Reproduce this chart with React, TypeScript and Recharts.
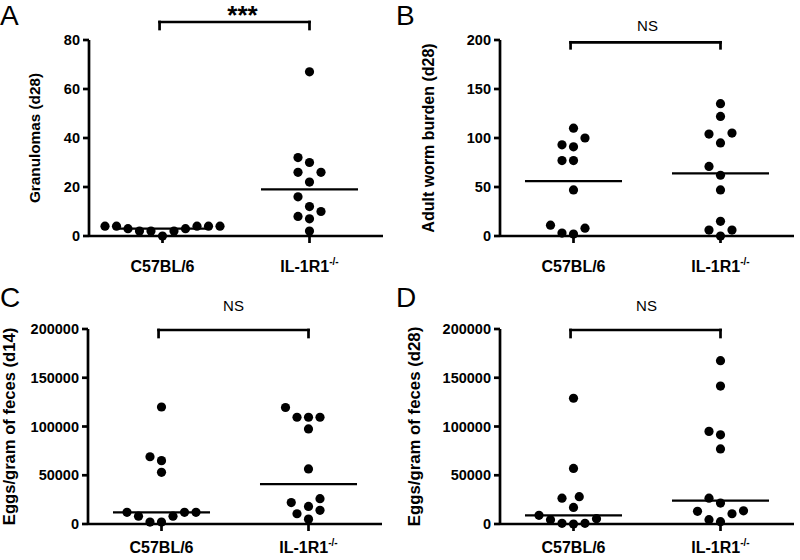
import React from "react";
import { ScatterChart, Scatter, XAxis, YAxis, ReferenceLine } from "recharts";

const FONT = "'Liberation Sans', Arial, Helvetica, sans-serif";

// group names on the x axis (second one gets a -/- superscript)
const groups = ["C57BL/6", "IL-1R1"];

// A: granulomas at d28
const granWt = [4, 4, 4, 3, 2, 0, 2, 2, 3, 4, 4];
const granKo = [67, 32, 30, 26, 26, 22, 16, 12, 10, 8, 7, 2];
const granLines = [3, 19];
const granTicks = [0, 20, 40, 60, 80];

// B: adult worm burden at d28
const wormWt = [110, 100, 91, 93, 77, 77, 47, 8, 2, 3, 11];
const wormKo = [135, 122, 104, 105, 95, 71, 62, 47, 15, 6, 0, 6];
const wormLines = [56, 64];
const wormTicks = [0, 50, 100, 150, 200];

// C: eggs/gram of feces at d14
const egg14Wt = [120000, 69000, 65000, 53000, 12000, 12000, 8000, 2000, 2000, 8000, 12000];
const egg14Ko = [119500, 109500, 109500, 109500, 97500, 56500, 26000, 22000, 18000, 14000, 10500, 5000];
const egg14Lines = [12000, 41000];

// D: eggs/gram of feces at d28
const egg28Wt = [129000, 57000, 26500, 28000, 17000, 5500, 700, 0, 700, 4400, 8900];
const egg28Ko = [167500, 141500, 95000, 91500, 77000, 26500, 21500, 13500, 10500, 13000, 2400, 4400];
const egg28Lines = [8900, 24000];
const eggTicks = [0, 50000, 100000, 150000, 200000];

const CAT_PX = 147; // pixels between the two groups
const DOT_R = 4.6;
const SWARM_STEP = 5.75;
const SWARM_GAP = 11.5;
const AXIS_W = 2.7;

// simple beeswarm: lowest values sit in the middle, others pushed sideways until they don't collide
function swarm(values: number[], cat: number, pxPerUnit: number) {
  const placed: { dx: number; dy: number }[] = [];
  return [...values]
    .sort((a, b) => a - b)
    .map((v) => {
      const dy = v * pxPerUnit;
      let dx = 0;
      for (let k = 0; k < 200; k++) {
        const c = k === 0 ? 0 : (k % 2 ? -1 : 1) * Math.ceil(k / 2) * SWARM_STEP;
        if (placed.every((p) => Math.hypot(p.dx - c, p.dy - dy) >= SWARM_GAP)) {
          dx = c;
          break;
        }
      }
      placed.push({ dx, dy });
      return { x: cat + dx / CAT_PX, y: v };
    });
}

const panels = [
  {
    key: "A", left: 0, top: 0,
    yLabel: "Granulomas (d28)", yLabelX: 40, yLabelSize: 15.3,
    plotLeft: 89, plotTop: 40, plotH: 196, yMax: 80, ticks: granTicks,
    wt: granWt, ko: granKo, lines: granLines,
    sig: "***", sigBold: true, sigSize: 26, sigDy: 2, sigDx: 8,
    bracketTop: -18, bracketDrop: 7, xLabelDy: 29,
  },
  {
    key: "B", left: 400, top: 0,
    yLabel: "Adult worm burden (d28)", yLabelX: 33.5, yLabelSize: 16,
    plotLeft: 100, plotTop: 40, plotH: 196, yMax: 200, ticks: wormTicks,
    wt: wormWt, ko: wormKo, lines: wormLines,
    sig: "NS", sigBold: false, sigSize: 15, sigDy: -11, sigDx: 2,
    bracketTop: 2.3, bracketDrop: 6, xLabelDy: 29,
  },
  {
    key: "C", left: 0, top: 280,
    yLabel: "Eggs/gram of feces (d14)", yLabelX: 15, yLabelSize: 16.6,
    plotLeft: 88, plotTop: 49, plotH: 195, yMax: 200000, ticks: eggTicks,
    wt: egg14Wt, ko: egg14Ko, lines: egg14Lines,
    sig: "NS", sigBold: false, sigSize: 15, sigDy: -19, sigDx: 0,
    bracketTop: 1, bracketDrop: 7, xLabelDy: 22,
  },
  {
    key: "D", left: 400, top: 280,
    yLabel: "Eggs/gram of feces (d28)", yLabelX: 20, yLabelSize: 16.8,
    plotLeft: 100, plotTop: 49, plotH: 195, yMax: 200000, ticks: eggTicks,
    wt: egg28Wt, ko: egg28Ko, lines: egg28Lines,
    sig: "NS", sigBold: false, sigSize: 15, sigDy: -19, sigDx: 1,
    bracketTop: 1, bracketDrop: 7, xLabelDy: 22,
  },
];

const Dot = (p: any) => <circle cx={p.cx} cy={p.cy} r={DOT_R} fill="#000" />;

const XTick = ({ x, y, payload, dy }: any) => (
  <text x={x} y={y + dy} textAnchor="middle" fontSize={16} fontWeight={700} fontFamily={FONT} fill="#000">
    {payload.value === 1 ? (
      groups[0]
    ) : (
      <>
        {groups[1]}
        <tspan dy={-7} fontSize={10}>-/-</tspan>
      </>
    )}
  </text>
);

function Panel({ cfg }: { cfg: (typeof panels)[number] }) {
  const pxY = cfg.plotH / cfg.yMax;
  const wt = swarm(cfg.wt, 1, pxY);
  const ko = swarm(cfg.ko, 2, pxY);
  const bTop = cfg.yMax - cfg.bracketTop / pxY;
  const bLow = bTop - cfg.bracketDrop / pxY;
  const bx = [0.98, 2.0];
  const line = { stroke: "#000", strokeWidth: AXIS_W };
  const brk = { stroke: "#000", strokeWidth: 2.7, strokeLinecap: "square" as const, ifOverflow: "visible" as const };

  return (
    <div style={{ position: "absolute", left: cfg.left, top: cfg.top, width: 400, height: 280 }}>
      <ScatterChart
        width={400}
        height={280}
        margin={{
          top: cfg.plotTop,
          left: cfg.plotLeft - 60,
          right: 400 - cfg.plotLeft - 2 * CAT_PX,
          bottom: 280 - cfg.plotTop - cfg.plotH - 30,
        }}
        style={{ overflow: "visible" }}
      >
        <XAxis
          type="number"
          dataKey="x"
          domain={[0.5, 2.5]}
          ticks={[1, 2]}
          interval={0}
          height={30}
          tickSize={7}
          tickMargin={0}
          axisLine={line}
          tickLine={line}
          tick={(p: any) => <XTick {...p} dy={cfg.xLabelDy} />}
          allowDataOverflow
        />
        <YAxis
          type="number"
          dataKey="y"
          domain={[0, cfg.yMax]}
          ticks={cfg.ticks}
          interval={0}
          width={60}
          tickSize={6}
          tickMargin={3}
          axisLine={line}
          tickLine={line}
          tick={{ fill: "#000", fontSize: 14.5, fontWeight: 700, fontFamily: FONT }}
          label={() => {
            const cx = cfg.yLabelX;
            const cy = cfg.plotTop + cfg.plotH / 2;
            return (
              <text
                x={cx}
                y={cy}
                transform={`rotate(-90 ${cx} ${cy})`}
                textAnchor="middle"
                fontSize={cfg.yLabelSize}
                fontWeight={700}
                fontFamily={FONT}
                fill="#000"
              >
                {cfg.yLabel}
              </text>
            );
          }}
        />
        {cfg.lines.map((c, i) => (
          <ReferenceLine
            key={"m" + i}
            segment={[{ x: i + 1 - 0.33, y: c }, { x: i + 1 + 0.33, y: c }]}
            stroke="#000"
            strokeWidth={2.2}
            ifOverflow="visible"
          />
        ))}
        <ReferenceLine
          segment={[{ x: bx[0], y: bTop }, { x: bx[1], y: bTop }]}
          {...brk}
          label={(p: any) => {
            const vb = p.viewBox || {};
            const tx = (vb.x ?? 0) + (vb.width ?? 0) / 2 + cfg.sigDx;
            const ty = (vb.y ?? 0) + cfg.sigDy;
            return (
              <text
                x={tx}
                y={ty}
                textAnchor="middle"
                fontSize={cfg.sigSize}
                fontWeight={cfg.sigBold ? 700 : 400}
                fontFamily={FONT}
                fill="#000"
              >
                {cfg.sig}
              </text>
            );
          }}
        />
        <ReferenceLine segment={[{ x: bx[0], y: bTop }, { x: bx[0], y: bLow }]} {...brk} />
        <ReferenceLine segment={[{ x: bx[1], y: bTop }, { x: bx[1], y: bLow }]} {...brk} />
        <Scatter data={wt} shape={Dot} isAnimationActive={false} />
        <Scatter data={ko} shape={Dot} isAnimationActive={false} />
      </ScatterChart>
    </div>
  );
}

const letters = [
  { t: "A", x: 0, y: 25 },
  { t: "B", x: 396, y: 25 },
  { t: "C", x: 0, y: 307 },
  { t: "D", x: 396, y: 307 },
];

export default function App() {
  return (
    <div style={{ position: "fixed", left: 0, top: 0, width: 800, height: 560, background: "#fff", overflow: "hidden" }}>
      {panels.map((p) => (
        <Panel key={p.key} cfg={p} />
      ))}
      <svg width={800} height={560} style={{ position: "absolute", left: 0, top: 0, pointerEvents: "none" }}>
        {letters.map((l) => (
          <text key={l.t} x={l.x} y={l.y} fontSize={28} fontFamily={FONT} fill="#000">
            {l.t}
          </text>
        ))}
      </svg>
    </div>
  );
}
